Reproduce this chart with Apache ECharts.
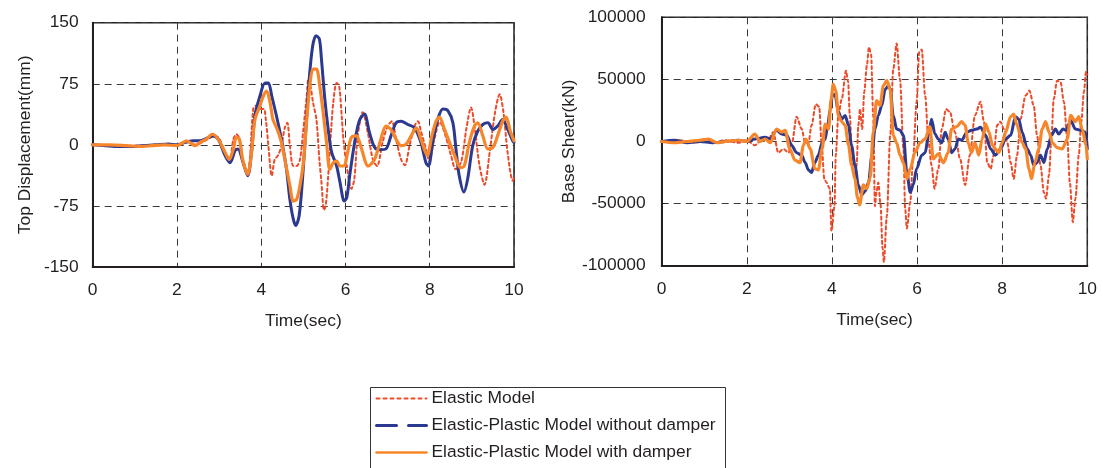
<!DOCTYPE html>
<html>
<head>
<meta charset="utf-8">
<script src="https://cdn.jsdelivr.net/npm/echarts@6/dist/echarts.min.js"></script>
<style>
html,body{margin:0;padding:0;background:#fff;}
#chart{width:1103px;height:468px;}
</style>
</head>
<body>
<div id="chart"></div>
<script>
// ---------- DATA ----------
const seriesNames = ['Elastic Model', 'Elastic-Plastic Model without damper', 'Elastic-Plastic Model with damper'];
const xTicks = [0, 2, 4, 6, 8, 10];
const dispTicks = [-150, -75, 0, 75, 150];
const shearTicks = [-100000, -50000, 0, 50000, 100000];

// Top displacement (mm) : [time(sec), value]
const dispElastic = [[0,0],[0.5,-1],[1.0,-1],[1.5,0],[2.0,0],[2.25,4],[2.45,0],[2.7,6],[2.9,11],[3.0,8],[3.14,-9],[3.25,-17],[3.34,7],[3.41,13],[3.49,7],[3.57,-18],[3.68,-34],[3.73,-18],[3.81,44],[3.87,48],[3.97,44],[4.06,44],[4.11,31],[4.17,-1],[4.25,-38],[4.32,-18],[4.4,-13],[4.48,-1],[4.56,21],[4.62,27],[4.68,-1],[4.76,-26],[4.84,-26],[4.92,-18],[5.0,19],[5.08,60],[5.12,81],[5.17,72],[5.23,52],[5.31,31],[5.38,-18],[5.43,-46],[5.49,-80],[5.53,-75],[5.59,-38],[5.65,11],[5.71,52],[5.79,76],[5.85,72],[5.91,36],[5.95,7],[6.03,-26],[6.14,-54],[6.21,-42],[6.29,11],[6.41,40],[6.53,15],[6.65,-18],[6.75,-26],[6.88,3],[7.0,23],[7.1,29],[7.2,7],[7.32,-18],[7.41,-25],[7.52,-1],[7.64,23],[7.72,29],[7.79,17],[7.91,-5],[7.99,-20],[8.1,5],[8.24,28],[8.38,10],[8.5,-12],[8.62,-30],[8.75,-20],[8.87,20],[8.98,46],[9.07,20],[9.18,-25],[9.3,-49],[9.42,-10],[9.55,40],[9.66,62],[9.75,40],[9.85,-10],[9.97,-44],[10,-40]];
const dispNoDamper = [[0,0],[0.3,-1],[0.6,-2],[0.9,-2],[1.2,-1],[1.5,0],[1.8,1],[2.0,0],[2.2,3],[2.4,5],[2.54,5],[2.7,8],[2.86,11],[2.98,7],[3.14,-13],[3.26,-22],[3.38,-7],[3.45,-5],[3.57,-22],[3.68,-38],[3.77,-9],[3.85,36],[3.97,60],[4.09,76],[4.17,76],[4.25,60],[4.36,36],[4.48,7],[4.6,-30],[4.68,-67],[4.76,-91],[4.82,-99],[4.9,-87],[4.98,-42],[5.06,19],[5.14,81],[5.22,121],[5.3,134],[5.38,130],[5.43,105],[5.51,56],[5.59,19],[5.67,-9],[5.79,-26],[5.87,-46],[5.97,-69],[6.03,-65],[6.1,-38],[6.18,-9],[6.26,15],[6.34,31],[6.45,38],[6.57,15],[6.69,-3],[6.81,-6],[6.96,-5],[7.08,11],[7.2,27],[7.32,29],[7.48,25],[7.64,21],[7.79,3],[7.91,-22],[7.97,-26],[8.07,3],[8.19,31],[8.31,44],[8.43,42],[8.55,27],[8.63,-9],[8.7,-38],[8.81,-58],[8.9,-42],[9.02,-1],[9.14,17],[9.26,25],[9.38,27],[9.5,19],[9.61,23],[9.73,31],[9.85,19],[9.97,5],[10,3]];
const dispDamper = [[0,0],[0.4,0],[0.8,-1],[1.1,-2],[1.4,-1],[1.7,0],[2.0,-1],[2.23,5],[2.43,-1],[2.55,3],[2.7,7],[2.84,13],[2.98,7],[3.14,-9],[3.24,-18],[3.34,-5],[3.41,9],[3.48,7],[3.56,-18],[3.68,-36],[3.77,-9],[3.85,31],[3.97,48],[4.05,60],[4.13,66],[4.21,52],[4.28,31],[4.38,19],[4.48,3],[4.59,-26],[4.68,-50],[4.76,-69],[4.84,-67],[4.92,-50],[5.0,-22],[5.08,31],[5.16,76],[5.23,93],[5.31,93],[5.39,72],[5.47,40],[5.55,3],[5.63,-30],[5.71,-22],[5.79,-20],[5.87,-26],[5.96,-26],[6.06,-7],[6.14,9],[6.26,11],[6.37,-3],[6.54,-26],[6.69,-18],[6.84,7],[6.96,23],[7.08,19],[7.2,7],[7.32,-1],[7.44,1],[7.56,11],[7.68,21],[7.79,7],[7.94,-13],[8.05,11],[8.15,29],[8.23,34],[8.35,19],[8.47,3],[8.59,-13],[8.73,-28],[8.82,-26],[8.94,3],[9.06,23],[9.14,27],[9.26,11],[9.38,-5],[9.5,-3],[9.61,11],[9.73,29],[9.81,34],[9.91,17],[10,5]];

// Base shear (kN) : [time(sec), value]
const shearElastic = [[0,0],[0.4,1000],[0.8,-1000],[1.0,2000],[1.2,-1000],[1.5,1000],[1.8,-1000],[2.0,1000],[2.19,-3000],[2.35,1000],[2.51,2000],[2.62,7500],[2.74,-9000],[2.86,-6000],[2.98,-9000],[3.06,-1000],[3.17,20000],[3.29,10000],[3.37,-1000],[3.45,-1000],[3.52,13000],[3.62,30000],[3.7,28000],[3.76,-3000],[3.82,-30000],[3.87,-33000],[3.95,-38000],[3.99,-72000],[4.06,-52000],[4.09,-11000],[4.15,21000],[4.23,34000],[4.33,57000],[4.38,48000],[4.42,21000],[4.46,-3000],[4.5,-23000],[4.54,-31000],[4.58,-19000],[4.62,13000],[4.66,26000],[4.71,10000],[4.76,40000],[4.82,61000],[4.87,76000],[4.92,70000],[4.97,20000],[5.01,-52000],[5.05,-40000],[5.09,-33000],[5.14,-50000],[5.19,-86000],[5.22,-97000],[5.29,-60000],[5.37,5000],[5.44,58000],[5.52,79000],[5.6,50000],[5.68,-6000],[5.72,-54000],[5.76,-70000],[5.84,-49000],[5.91,-11000],[5.99,32000],[6.05,72000],[6.11,74000],[6.19,37000],[6.27,-1000],[6.34,-19000],[6.41,-38000],[6.5,-22000],[6.58,10000],[6.68,26000],[6.77,24000],[6.89,7500],[7.01,-14000],[7.13,-35000],[7.24,-11000],[7.36,21000],[7.49,32000],[7.57,16000],[7.65,-17000],[7.73,-22000],[7.8,-11000],[7.88,13000],[7.96,16000],[8.04,10000],[8.12,-1000],[8.2,-17000],[8.27,-30000],[8.35,-11000],[8.43,18000],[8.55,37000],[8.64,41000],[8.74,29000],[8.82,5000],[8.9,-19000],[8.98,-41000],[9.03,-46000],[9.1,-27000],[9.16,5000],[9.21,34000],[9.29,49000],[9.37,48000],[9.45,32000],[9.53,2000],[9.59,-33000],[9.66,-65000],[9.72,-46000],[9.8,-11000],[9.86,16000],[9.92,40000],[9.97,56000],[10,54000]];
const shearNoDamper = [[0,0],[0.3,1000],[0.6,-1000],[0.9,0],[1.2,-1000],[1.5,0],[1.8,1000],[2.0,0],[2.19,2000],[2.43,3500],[2.55,2000],[2.7,9000],[2.82,6000],[2.94,5000],[3.05,-3000],[3.17,-9000],[3.29,-11000],[3.37,-17000],[3.45,-23000],[3.52,-25000],[3.6,-17000],[3.68,-11000],[3.77,-1000],[3.84,2000],[3.9,13000],[3.96,26000],[4.01,37000],[4.07,38000],[4.15,24000],[4.23,18000],[4.31,21000],[4.39,13000],[4.46,-3000],[4.54,-19000],[4.62,-35000],[4.7,-43000],[4.78,-40000],[4.86,-33000],[4.94,-11000],[5.01,10000],[5.09,21000],[5.17,29000],[5.25,42000],[5.33,45000],[5.37,42000],[5.44,21000],[5.52,10000],[5.6,9000],[5.68,5000],[5.76,-25000],[5.84,-41000],[5.91,-35000],[5.99,-22000],[6.11,-11000],[6.19,-9000],[6.27,5000],[6.34,18000],[6.42,6000],[6.5,2000],[6.58,-1000],[6.66,7500],[6.73,2000],[6.81,-9000],[6.89,-6000],[6.97,2000],[7.05,1000],[7.17,7500],[7.28,9000],[7.4,10000],[7.49,11500],[7.61,5000],[7.73,-6000],[7.84,-11000],[7.96,-6000],[8.08,2000],[8.2,5000],[8.31,20000],[8.39,18000],[8.47,7500],[8.59,-6000],[8.67,-11000],[8.74,-19000],[8.82,-17000],[8.9,-11000],[8.98,-17000],[9.06,-6000],[9.16,5000],[9.25,10000],[9.33,6000],[9.43,10000],[9.5,9000],[9.61,17000],[9.72,10000],[9.84,9000],[9.96,7500],[10,-6000]];
const shearDamper = [[0,0],[0.3,-1000],[0.6,0],[0.9,1000],[1.1,2000],[1.3,-1000],[1.5,0],[1.8,1000],[2.0,0],[2.19,6000],[2.31,0],[2.43,2000],[2.55,-1000],[2.7,10000],[2.82,7500],[2.9,9000],[3.01,-6000],[3.13,-15000],[3.25,-17000],[3.33,-3000],[3.39,2000],[3.49,-6000],[3.6,-22000],[3.68,-23000],[3.77,-6000],[3.84,14000],[3.92,10000],[3.98,34000],[4.03,46000],[4.09,41000],[4.15,21000],[4.23,16000],[4.31,13000],[4.39,-3000],[4.46,-19000],[4.54,-30000],[4.6,-45000],[4.65,-51000],[4.74,-35000],[4.82,-38000],[4.9,-29000],[4.97,7500],[5.05,33000],[5.13,29000],[5.21,45000],[5.29,49000],[5.37,42000],[5.44,5000],[5.52,-1000],[5.6,-11000],[5.68,-17000],[5.76,-30000],[5.84,-22000],[5.95,-9000],[6.07,-1000],[6.19,2000],[6.3,12000],[6.38,-14000],[6.5,-10000],[6.62,-17000],[6.73,-9000],[6.81,10000],[6.93,12000],[7.05,16000],[7.13,13000],[7.2,-1000],[7.28,-9000],[7.36,-1000],[7.45,-11000],[7.53,2000],[7.61,14000],[7.69,7500],[7.77,-3000],[7.84,-6000],[7.92,-9000],[8.0,-1000],[8.08,7500],[8.2,20000],[8.27,22000],[8.35,13000],[8.47,-1000],[8.55,-6000],[8.63,-22000],[8.69,-30000],[8.77,-17000],[8.86,-6000],[8.94,10000],[9.02,16000],[9.1,7500],[9.18,-1000],[9.29,-5000],[9.41,-6000],[9.53,2000],[9.61,21000],[9.72,16000],[9.8,20000],[9.88,10000],[9.97,-3000],[10,-14000]];

// ---------- STYLE ----------
const FONT = '"Liberation Sans", Arial, Helvetica, sans-serif';
const FS = 17.4;
const TXT = '#231f20';
const RED = '#ee4a2a';
const BLUE = '#2b3990';
const ORANGE = '#f7862b';
const GRIDLINE = { show: true, lineStyle: { color: '#3a3a3a', width: 1, type: [7, 5] } };
const plainNum = function (v) { return String(v); };

function xAxisCfg(gi) {
  return {
    type: 'value', gridIndex: gi, min: xTicks[0], max: xTicks[xTicks.length - 1],
    interval: xTicks[1] - xTicks[0],
    name: 'Time(sec)', nameLocation: 'middle', nameGap: 46,
    nameTextStyle: { fontSize: FS, color: TXT, fontFamily: FONT },
    axisLine: { show: true, onZero: false, lineStyle: { color: TXT, width: 2 } },
    axisTick: { show: false },
    axisLabel: { fontSize: FS, color: TXT, fontFamily: FONT, margin: 15, formatter: plainNum },
    splitLine: GRIDLINE
  };
}
function yAxisCfg(gi, ticks, name, gap, margin, tick) {
  return {
    type: 'value', gridIndex: gi, min: ticks[0], max: ticks[ticks.length - 1],
    interval: ticks[1] - ticks[0],
    name: name, nameLocation: 'middle', nameGap: gap,
    nameTextStyle: { fontSize: FS, color: TXT, fontFamily: FONT },
    axisLine: { show: true, onZero: false, lineStyle: { color: TXT, width: 2 } },
    axisTick: { show: tick, inside: true, length: 4, lineStyle: { color: TXT } },
    axisLabel: { fontSize: FS, color: TXT, fontFamily: FONT, margin: margin, formatter: plainNum },
    splitLine: GRIDLINE
  };
}
function line(name, data, gi, color, width, type, z, mono) {
  const s = {
    name: name, type: 'line', xAxisIndex: gi, yAxisIndex: gi, data: data,
    symbol: 'none', showSymbol: false, smooth: 0.3, z: z,
    lineStyle: { color: color, width: width, type: type, cap: 'round', join: 'round' },
    itemStyle: { color: color },
    animation: false
  };
  if (mono) s.smoothMonotone = 'x';
  return s;
}

const chart = echarts.init(document.getElementById('chart'), null, { renderer: 'canvas' });
chart.setOption({
  backgroundColor: '#ffffff',
  animation: false,
  grid: [
    { left: 92.7, top: 22.7, width: 421.3, height: 244.3, show: true, borderColor: TXT, borderWidth: 1.5, backgroundColor: 'transparent' },
    { left: 661.7, top: 17.3, width: 425.6, height: 248.4, show: true, borderColor: TXT, borderWidth: 1.5, backgroundColor: 'transparent' }
  ],
  xAxis: [xAxisCfg(0), xAxisCfg(1)],
  yAxis: [
    yAxisCfg(0, dispTicks, 'Top Displacement(mm)', 59, 14, false),
    yAxisCfg(1, shearTicks, 'Base Shear(kN)', 75, 16, true)
  ],
  legend: {
    orient: 'vertical', left: 375, top: 390,
    itemWidth: 50, itemHeight: 14, itemGap: 10,
    padding: 0,
    textStyle: { fontSize: FS, color: TXT, fontFamily: FONT, lineHeight: 17 },
    selectedMode: false,
    itemStyle: { opacity: 0, borderWidth: 0 },
    data: [
      { name: seriesNames[0], lineStyle: { width: 2, type: [3, 4], color: RED } },
      { name: seriesNames[1], lineStyle: { width: 3, type: [20, 12], color: BLUE } },
      { name: seriesNames[2], lineStyle: { width: 2.5, type: 'solid', color: ORANGE } }
    ]
  },
  graphic: [
    { type: 'rect', left: 368, top: 385, shape: { width: 355, height: 100 }, style: { fill: 'none', stroke: '#333', lineWidth: 1 }, silent: true }
  ],
  series: [
    line(seriesNames[0], dispElastic, 0, RED, 2, [3, 3], 2, false),
    line(seriesNames[1], dispNoDamper, 0, BLUE, 3, 'solid', 3, false),
    line(seriesNames[2], dispDamper, 0, ORANGE, 3.2, 'solid', 4, false),
    line(seriesNames[0], shearElastic, 1, RED, 2, [3, 3], 2, true),
    line(seriesNames[1], shearNoDamper, 1, BLUE, 3, 'solid', 3, true),
    line(seriesNames[2], shearDamper, 1, ORANGE, 3.2, 'solid', 4, true)
  ]
});
</script>
</body>
</html>
